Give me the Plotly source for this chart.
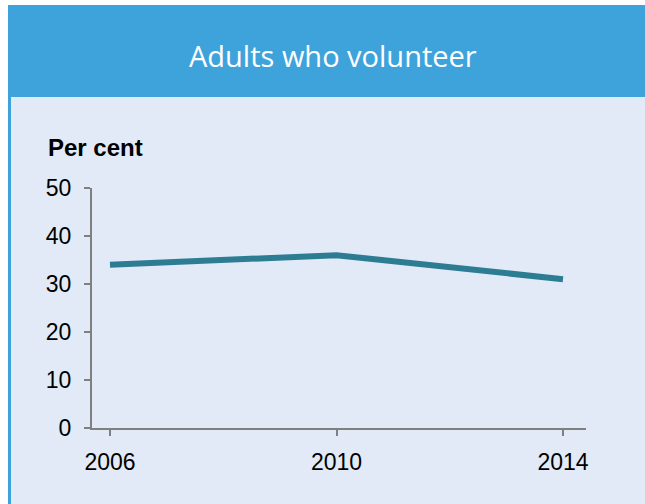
import plotly.graph_objects as go

years = [2006, 2010, 2014]
volunteer_pct = [34, 36, 31]
y_ticks = [0, 10, 20, 30, 40, 50]
title_text = "Adults who volunteer"
y_label = "Per cent"

W, H = 645, 504
L, R, T, B = 92, 586, 188, 428  # plot area pixel bounds
pw, ph = R - L, B - T

def px(x):
    return (x - L) / pw

def py(y):
    return (B - y) / ph

HEADER = "#3FA3DB"
PANEL = "#E1EAF6"
AXIS = "#808080"

fig = go.Figure()
fig.add_trace(go.Scatter(
    x=years, y=volunteer_pct, mode="lines",
    line=dict(color="#2C7C94", width=6),
    hoverinfo="skip", showlegend=False,
))

shapes = [
    dict(type="rect", xref="paper", yref="paper", x0=px(8), x1=px(660), y0=py(97), y1=py(520),
         fillcolor=PANEL, line=dict(width=0), layer="below"),
    dict(type="rect", xref="paper", yref="paper", x0=px(8), x1=px(660), y0=py(97), y1=py(5),
         fillcolor=HEADER, line=dict(width=0), layer="below"),
    dict(type="rect", xref="paper", yref="paper", x0=px(8), x1=px(11), y0=py(520), y1=py(97),
         fillcolor=HEADER, line=dict(width=0), layer="below"),
]

annotations = [
    dict(text=title_text, xref="paper", yref="paper", x=px(333), y=py(55),
         xanchor="center", yanchor="middle", showarrow=False,
         font=dict(family="Open Sans", size=29, color="white")),
    dict(text="<b>" + y_label + "</b>", xref="paper", yref="paper", x=px(46), y=py(147),
         xanchor="left", yanchor="middle", showarrow=False,
         font=dict(family="Liberation Sans, Arial", size=24, color="black")),
]

slope = (563 - 110) / (years[-1] - years[0])
x0 = years[0] - (110 - L) / slope
x1 = years[-1] + (R - 563) / slope

fig.update_layout(
    width=W, height=H,
    margin=dict(l=L, r=W - R, t=T, b=H - B, pad=0),
    paper_bgcolor="white", plot_bgcolor=PANEL,
    shapes=shapes, annotations=annotations,
    font=dict(family="Liberation Sans, Arial", size=23, color="black"),
    xaxis=dict(range=[x0, x1], tickvals=years, ticktext=[str(y) for y in years],
               showgrid=False, zeroline=False, showline=True, linecolor=AXIS, linewidth=2,
               ticks="outside", ticklen=6, tickwidth=1.5, tickcolor=AXIS,
               ticklabelstandoff=6, fixedrange=True),
    yaxis=dict(range=[0, 50], tickvals=y_ticks, showgrid=False, zeroline=False,
               showline=True, linecolor=AXIS, linewidth=2,
               ticks="outside", ticklen=6, tickwidth=1.5, tickcolor=AXIS,
               ticklabelstandoff=8, fixedrange=True),
)

fig.write_html("out.html", config={"displayModeBar": False},
               post_script="document.body.style.margin='0';document.body.style.overflow='hidden';")
